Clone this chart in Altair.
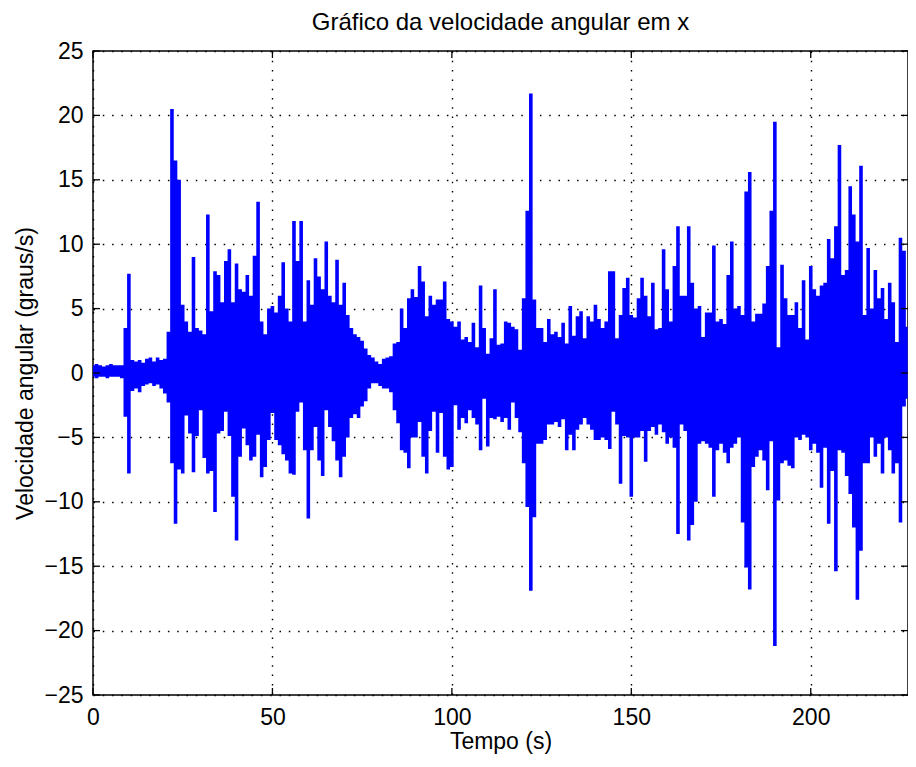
import altair as alt
import pandas as pd

# Upper and lower envelope of the angular velocity signal, one value per second (t = 0 .. 227 s)
UPPER = [
    0.6, 0.7, 0.6, 0.5, 0.6, 0.7, 0.6, 0.6, 0.6, 3.5,
    7.7, 1.0, 0.9, 1.0, 0.8, 1.1, 1.2, 0.9, 1.2, 1.0,
    1.1, 3.2, 20.5, 16.5, 15.0, 5.3, 4.0, 3.2, 9.0, 3.5,
    3.3, 3.0, 12.3, 4.8, 7.9, 7.6, 5.5, 8.7, 9.6, 5.5,
    8.5, 6.5, 6.3, 7.6, 6.0, 9.1, 13.3, 4.0, 3.0, 5.0,
    5.2, 4.7, 6.0, 8.6, 5.0, 4.0, 11.8, 8.7, 11.8, 4.0,
    7.2, 5.3, 8.9, 7.5, 6.5, 10.2, 6.0, 5.5, 8.8, 5.3,
    7.0, 4.5, 3.5, 3.0, 2.8, 2.5, 1.9, 1.4, 1.2, 0.9,
    0.7, 1.1, 1.2, 1.3, 2.3, 2.4, 5.0, 3.5, 5.8, 6.5,
    5.9, 8.3, 7.1, 4.4, 6.0, 5.3, 5.7, 5.7, 7.1, 4.2,
    4.0, 3.6, 4.0, 2.6, 2.8, 2.4, 3.9, 2.0, 6.8, 3.5,
    1.5, 2.7, 6.5, 2.2, 2.3, 4.0, 3.9, 3.6, 3.4, 1.8,
    5.8, 12.6, 21.7, 5.7, 3.5, 3.5, 2.4, 4.2, 3.0, 3.2,
    2.8, 3.9, 2.3, 5.2, 2.9, 4.4, 4.8, 2.7, 4.4, 4.0,
    5.3, 4.2, 3.5, 4.0, 7.9, 7.9, 2.7, 4.5, 6.6, 7.4,
    4.5, 4.3, 5.8, 7.4, 6.0, 4.4, 7.0, 3.4, 3.5, 9.6,
    6.5, 4.0, 8.3, 11.4, 6.0, 6.0, 11.4, 7.0, 5.0, 5.2,
    2.8, 4.7, 4.7, 9.9, 4.0, 4.2, 3.8, 7.6, 10.2, 5.0,
    5.2, 4.5, 14.1, 15.6, 4.0, 4.6, 4.6, 5.4, 8.3, 12.6,
    19.5, 2.0, 8.4, 5.8, 4.5, 4.5, 5.5, 3.5, 7.2, 2.6,
    8.3, 6.5, 6.0, 6.8, 7.0, 10.4, 8.9, 11.4, 17.7, 7.6,
    8.0, 14.5, 12.3, 10.2, 16.1, 4.5, 9.7, 5.0, 8.0, 5.8,
    6.6, 4.2, 7.0, 5.5, 2.4, 10.5, 9.5, 3.6,
]
LOWER = [
    -0.3, -0.4, -0.3, -0.3, -0.4, -0.3, -0.3, -0.3, -0.4, -3.4,
    -7.8, -1.4, -1.2, -1.5, -1.0, -0.9, -0.8, -1.0, -0.9, -1.2,
    -1.6, -2.3, -7.0, -11.7, -7.5, -7.8, -3.3, -4.7, -7.7, -4.9,
    -2.9, -6.6, -7.8, -7.6, -10.8, -4.7, -4.5, -3.0, -4.9, -9.6,
    -13.0, -6.5, -4.3, -5.6, -6.8, -6.5, -4.8, -8.1, -7.3, -5.2,
    -3.1, -5.2, -5.6, -6.3, -6.8, -7.8, -7.9, -3.0, -2.3, -6.0,
    -11.3, -6.0, -4.2, -6.8, -8.0, -2.9, -4.2, -5.3, -6.8, -8.1,
    -6.5, -5.0, -3.5, -3.2, -3.5, -2.6, -2.2, -1.2, -0.8, -0.8,
    -1.0, -1.2, -1.2, -1.5, -2.9, -3.9, -6.0, -6.2, -7.4, -5.0,
    -5.0, -3.8, -6.5, -7.8, -4.5, -3.0, -6.2, -3.1, -6.5, -7.5,
    -7.3, -2.5, -4.4, -3.5, -3.9, -2.9, -3.5, -4.0, -6.0, -2.0,
    -5.7, -3.5, -3.6, -3.4, -3.8, -3.5, -4.4, -2.3, -3.5, -4.6,
    -7.0, -10.4, -16.9, -11.2, -5.5, -5.5, -5.2, -4.0, -4.0, -3.8,
    -4.2, -3.6, -6.0, -4.8, -6.0, -4.4, -4.0, -3.5, -4.0, -4.4,
    -5.2, -5.2, -5.0, -5.2, -5.9, -3.0, -4.0, -8.6, -4.9, -5.0,
    -9.6, -5.0, -5.0, -4.5, -6.9, -4.5, -4.2, -4.8, -4.0, -4.6,
    -5.5, -5.0, -5.8, -12.5, -4.0, -4.5, -13.0, -11.8, -10.0, -5.5,
    -5.3, -5.5, -5.8, -9.6, -6.0, -5.5, -6.2, -7.0, -5.8, -5.5,
    -5.0, -11.6, -15.1, -16.8, -7.3, -6.5, -6.0, -6.8, -9.1, -5.3,
    -21.2, -9.9, -7.0, -6.8, -7.2, -7.4, -5.0, -5.2, -4.8, -5.0,
    -6.0, -5.5, -6.2, -8.9, -5.8, -11.7, -7.6, -15.4, -6.0, -6.2,
    -8.0, -9.4, -12.0, -17.6, -13.8, -7.0, -7.0, -5.0, -6.5, -5.5,
    -7.8, -5.0, -6.0, -7.8, -7.0, -11.6, -2.6, -2.0,
]
TIME = list(range(len(UPPER)))  # seconds

X_TICKS = [0, 50, 100, 150, 200]
Y_TICKS = [-25, -20, -15, -10, -5, 0, 5, 10, 15, 20, 25]
X_MAX = 227.1

TITLE = "Gráfico da velocidade angular em x"
X_TITLE = "Tempo (s)"
Y_TITLE = "Velocidade angular (graus/s)"

W, H = 815, 644
FONT = "Liberation Sans"
FS = 23

df = pd.DataFrame({"t": TIME, "hi": UPPER, "lo": LOWER})
xt = pd.DataFrame({"t": X_TICKS})
yt = pd.DataFrame({"hi": Y_TICKS})

xscale = alt.Scale(domain=[0, X_MAX], nice=False, zero=False)
yscale = alt.Scale(domain=[-25, 25], nice=False, zero=False)

AX_X = alt.Axis(values=X_TICKS, title=X_TITLE, labelPadding=11, titleY=53,
                titleBaseline="alphabetic", labelFlush=False)
AX_Y = alt.Axis(values=Y_TICKS, title=Y_TITLE, labelPadding=10, titleX=-61, titleY=H / 2,
                titleAngle=270, titleBaseline="alphabetic", labelFlush=False)

area = alt.Chart(df).mark_area(interpolate="step", color="#0000ff", opacity=1, clip=True).encode(
    x=alt.X("t:Q", scale=xscale, axis=AX_X),
    y=alt.Y("hi:Q", scale=yscale, axis=AX_Y),
    y2="lo:Q",
)

tick_style = dict(color="#000000", strokeWidth=1.3)
xb = alt.Chart(xt).mark_rule(**tick_style).encode(
    x=alt.X("t:Q", scale=xscale, axis=AX_X), y=alt.value(H), y2=alt.value(H - 7))
xtop = alt.Chart(xt).mark_rule(**tick_style).encode(
    x=alt.X("t:Q", scale=xscale, axis=AX_X), y=alt.value(0), y2=alt.value(7))
yl = alt.Chart(yt).mark_rule(**tick_style).encode(
    y=alt.Y("hi:Q", scale=yscale, axis=AX_Y), x=alt.value(0), x2=alt.value(7))
yr = alt.Chart(yt).mark_rule(**tick_style).encode(
    y=alt.Y("hi:Q", scale=yscale, axis=AX_Y), x=alt.value(W), x2=alt.value(W - 7))

chart = alt.layer(area, xb, xtop, yl, yr).properties(
    width=W, height=H,
    title=alt.TitleParams(TITLE, font=FONT, fontSize=24, fontWeight="normal", color="#000000",
                          anchor="middle", baseline="alphabetic", offset=-14),
    padding={"left": 85, "top": 43, "right": 0, "bottom": 60},
    autosize=alt.AutoSizeParams(type="none"),
    background="#ffffff",
).configure(
    font=FONT,
    view=alt.ViewConfig(stroke="#000000", strokeWidth=1.5),
    axis=alt.AxisConfig(
        grid=True, gridColor="#000000", gridDash=[1.5, 7.8], gridWidth=1.4, gridOpacity=1,
        ticks=False, domain=False, labelFont=FONT, labelFontSize=FS, labelColor="#000000",
        titleFont=FONT, titleFontSize=FS, titleFontWeight="normal", titleColor="#000000",
    ),
)

chart.save("out.html", embed_options={"renderer": "svg", "actions": False})
